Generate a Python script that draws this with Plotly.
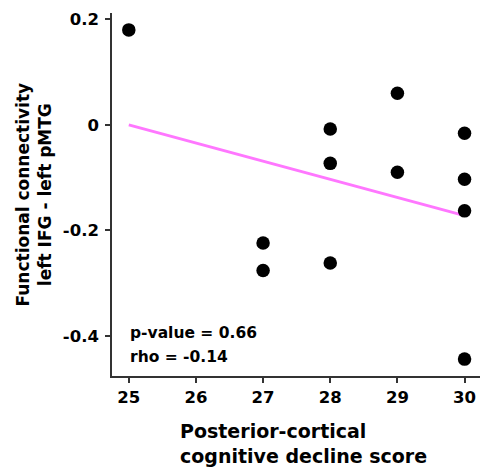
import plotly.graph_objects as go

x_scores = [25, 27, 27, 28, 28, 28, 29, 29, 30, 30, 30, 30]
fc_values = [0.18, -0.224, -0.276, -0.008, -0.073, -0.262, 0.06, -0.09, -0.016, -0.103, -0.163, -0.444]
fit_x = [25, 30]
fit_y = [0.0, -0.172]
x_ticks = [25, 26, 27, 28, 29, 30]
x_tick_labels = ["25", "26", "27", "28", "29", "30"]
y_ticks = [0.2, 0, -0.2, -0.4]
y_tick_labels = ["0.2", "0", "-0.2", "-0.4"]

FONT = "DejaVu Sans"

fig = go.Figure()
fig.add_trace(go.Scatter(x=fit_x, y=fit_y, mode="lines",
                         line=dict(color="#ff77ff", width=3), showlegend=False))
fig.add_trace(go.Scatter(x=x_scores, y=fc_values, mode="markers",
                         marker=dict(color="black", size=13.5), showlegend=False))

fig.update_layout(
    width=481, height=471,
    margin=dict(l=112, r=1, t=13, b=95),
    paper_bgcolor="white", plot_bgcolor="white",
    font=dict(family=FONT, color="black"),
    xaxis=dict(range=[24.75, 30.23], tickvals=x_ticks,
               ticktext=["<b>%s</b>" % t for t in x_tick_labels],
               ticks="outside", ticklen=5,
               tickwidth=1.5, tickcolor="#333", showline=True, linecolor="#333",
               linewidth=1.5, showgrid=False, zeroline=False,
               tickfont=dict(family=FONT, size=16.5, color="black", weight=700)),
    yaxis=dict(range=[-0.476, 0.212], tickvals=y_ticks,
               ticktext=["<b>%s</b>" % t for t in y_tick_labels],
               ticks="outside", ticklen=5, tickwidth=1.5, tickcolor="#333",
               showline=True, linecolor="#333", linewidth=1.5, showgrid=False,
               zeroline=False, ticklabelstandoff=3,
               tickfont=dict(family=FONT, size=16.5, color="black", weight=700)),
)

fig.add_annotation(text="<b>Posterior-cortical<br>cognitive decline score</b>",
                   xref="paper", yref="paper", x=(303.5 - 112) / 368, y=-(418 - 376) / 363,
                   xanchor="center", yanchor="top", align="left", showarrow=False,
                   font=dict(family=FONT, size=19, color="black"))
fig.add_annotation(text="<b>Functional connectivity<br>left IFG - left pMTG</b>",
                   xref="paper", yref="paper", x=-(112 - 10) / 368, y=0.5,
                   xanchor="left", yanchor="middle", textangle=-90, showarrow=False,
                   font=dict(family=FONT, size=17, color="black"))
fig.add_annotation(text="<b>p-value = 0.66</b>", xref="paper", yref="paper",
                   x=(128 - 112) / 368, y=(376 - 333) / 363, xanchor="left", yanchor="middle",
                   showarrow=False, font=dict(family=FONT, size=15.5, color="black"))
fig.add_annotation(text="<b>rho = -0.14</b>", xref="paper", yref="paper",
                   x=(128 - 112) / 368, y=(376 - 357) / 363, xanchor="left", yanchor="middle",
                   showarrow=False, font=dict(family=FONT, size=15.5, color="black"))

fig.write_html("out.html")
